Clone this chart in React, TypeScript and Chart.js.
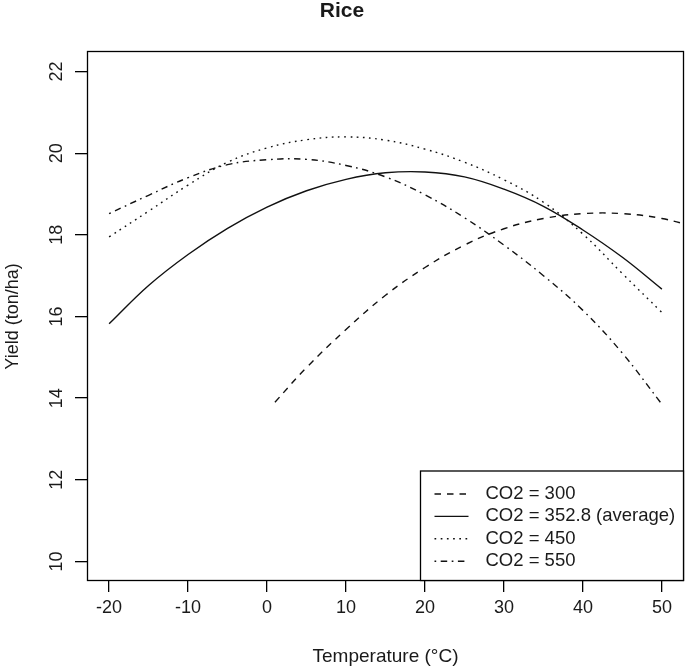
import React, { useEffect, useRef } from "react";
import { Chart, registerables } from "chart.js";

Chart.register(...registerables);

const chartTitle = "Rice";
const xAxisTitle = "Temperature (°C)";
const yAxisTitle = "Yield (ton/ha)";

const xTicks = [-20, -10, 0, 10, 20, 30, 40, 50];
const yTicks = [10, 12, 14, 16, 18, 20, 22];

const tempsFull = [-20, -15, -10, -5, 0, 5, 10, 15, 20, 25, 30, 35, 40, 45, 50];
const tempsLow = [1, 5, 10, 15, 20, 25, 30, 35, 40, 45, 50, 55];

const seriesLabels = [
  "CO2 = 300",
  "CO2 = 352.8 (average)",
  "CO2 = 450",
  "CO2 = 550",
];

const yield300 = [13.9, 14.75, 15.68, 16.52, 17.2, 17.75, 18.15, 18.4, 18.52, 18.52, 18.4, 18.15];
const yield352 = [15.82, 16.76, 17.52, 18.16, 18.68, 19.08, 19.36, 19.52, 19.54, 19.42, 19.12, 18.7, 18.12, 17.45, 16.67];
const yield450 = [17.95, 18.58, 19.22, 19.78, 20.13, 20.33, 20.4, 20.32, 20.1, 19.78, 19.35, 18.8, 18.02, 17.05, 16.1];
const yield550 = [18.52, 18.97, 19.4, 19.72, 19.84, 19.85, 19.7, 19.42, 18.98, 18.42, 17.75, 17.0, 16.15, 15.1, 13.85];

const FONT = "'Liberation Sans', Arial, sans-serif";
const TEXT = "#1a1a1a";

function toPoints(xs: number[], ys: number[]) {
  return xs.map((x, i) => ({ x, y: ys[i] }));
}

const boxPlugin = {
  id: "rbox",
  afterDatasetsDraw(chart: any) {
    const { ctx, chartArea: ca } = chart;
    ctx.save();
    ctx.strokeStyle = "#000";
    ctx.lineWidth = 1.3;
    const l = Math.round(ca.left) + 0.5;
    const t = Math.round(ca.top) - 0.5;
    const r = Math.round(ca.right) - 0.5;
    const b = Math.round(ca.bottom) - 0.5;
    ctx.strokeRect(l, t, r - l, b - t);

    // y tick labels, rotated like R (las = 0)
    const ys = chart.scales.y;
    ctx.fillStyle = TEXT;
    ctx.font = `18px ${FONT}`;
    ctx.textAlign = "center";
    ctx.textBaseline = "middle";
    ys.ticks.forEach((tk: any) => {
      const py = ys.getPixelForValue(tk.value);
      ctx.save();
      ctx.translate(57, py);
      ctx.rotate(-Math.PI / 2);
      ctx.fillText(String(tk.label ?? tk.value), 0, 0);
      ctx.restore();
    });

    // legend (bottom-right, inside the plot box)
    const w = 263;
    const h = 109.5;
    const lx = r - w;
    const ly = b - h;
    ctx.fillStyle = "#fff";
    ctx.fillRect(lx, ly, w, h);
    ctx.strokeStyle = "#000";
    ctx.lineWidth = 1.3;
    ctx.strokeRect(lx, ly, w, h);
    chart.data.datasets.forEach((ds: any, i: number) => {
      const cy = ly + 23 + i * 22.4;
      ctx.save();
      ctx.strokeStyle = ds.borderColor;
      ctx.lineWidth = ds.borderWidth;
      ctx.setLineDash(ds.borderDash || []);
      ctx.beginPath();
      ctx.moveTo(lx + 14, cy);
      ctx.lineTo(lx + 48, cy);
      ctx.stroke();
      ctx.restore();
      ctx.fillStyle = TEXT;
      ctx.font = `18.5px ${FONT}`;
      ctx.textAlign = "left";
      ctx.textBaseline = "middle";
      ctx.fillText(ds.label, lx + 65, cy);
    });
    ctx.restore();
  },
};

export default function App() {
  const ref = useRef<HTMLCanvasElement | null>(null);

  useEffect(() => {
    document.body.style.margin = "0";
    const canvas = ref.current;
    if (!canvas) return;
    const lineCommon = {
      borderColor: "#111",
      borderWidth: 1.4,
      pointRadius: 0,
      fill: false,
      tension: 0.4,
    };
    const chart = new Chart(canvas, {
      type: "line",
      data: {
        datasets: [
          { ...lineCommon, label: seriesLabels[0], data: toPoints(tempsLow, yield300), borderDash: [6.5, 6] },
          { ...lineCommon, label: seriesLabels[1], data: toPoints(tempsFull, yield352), borderDash: [] },
          { ...lineCommon, label: seriesLabels[2], data: toPoints(tempsFull, yield450), borderDash: [1.7, 4.5] },
          { ...lineCommon, label: seriesLabels[3], data: toPoints(tempsFull, yield550), borderDash: [1.7, 4.5, 6.5, 4.5] },
        ],
      },
      options: {
        animation: false,
        responsive: false,
        devicePixelRatio: 1,
        layout: { padding: { left: 0, right: 1, top: 0, bottom: 0 } },
        plugins: {
          legend: { display: false },
          tooltip: { enabled: false },
          title: {
            display: true,
            text: chartTitle,
            color: TEXT,
            font: { family: FONT, size: 21, weight: "bold", lineHeight: 1 },
            padding: { top: 1, bottom: 30 },
          },
        },
        scales: {
          x: {
            type: "linear",
            min: -22.8,
            max: 52.8,
            afterBuildTicks: (s: any) => {
              s.ticks = xTicks.map((v) => ({ value: v }));
            },
            afterFit: (s: any) => {
              s.height = 89;
            },
            grid: {
              display: true,
              drawOnChartArea: false,
              drawTicks: true,
              tickLength: 11,
              color: "#000",
              lineWidth: 1.3,
            },
            border: { display: false },
            ticks: {
              color: TEXT,
              font: { family: FONT, size: 18 },
              padding: 5,
              maxRotation: 0,
              autoSkip: false,
            },
            title: {
              display: true,
              text: xAxisTitle,
              color: TEXT,
              font: { family: FONT, size: 19 },
              padding: { top: 0, bottom: 2 },
            },
          },
          y: {
            type: "linear",
            min: 9.52,
            max: 22.48,
            afterBuildTicks: (s: any) => {
              s.ticks = yTicks.map((v) => ({ value: v }));
            },
            afterFit: (s: any) => {
              s.width = 87;
            },
            grid: {
              display: true,
              drawOnChartArea: false,
              drawTicks: true,
              tickLength: 12,
              color: "#000",
              lineWidth: 1.3,
            },
            border: { display: false },
            ticks: { display: false },
            title: {
              display: true,
              text: yAxisTitle,
              color: TEXT,
              font: { family: FONT, size: 18 },
              padding: { top: 2, bottom: 0 },
            },
          },
        },
      },
      plugins: [boxPlugin],
    } as any);
    return () => chart.destroy();
  }, []);

  return (
    <div style={{ position: "absolute", left: 0, top: 0, width: 685, height: 670 }}>
      <canvas ref={ref} width={685} height={670} style={{ display: "block" }} />
    </div>
  );
}
